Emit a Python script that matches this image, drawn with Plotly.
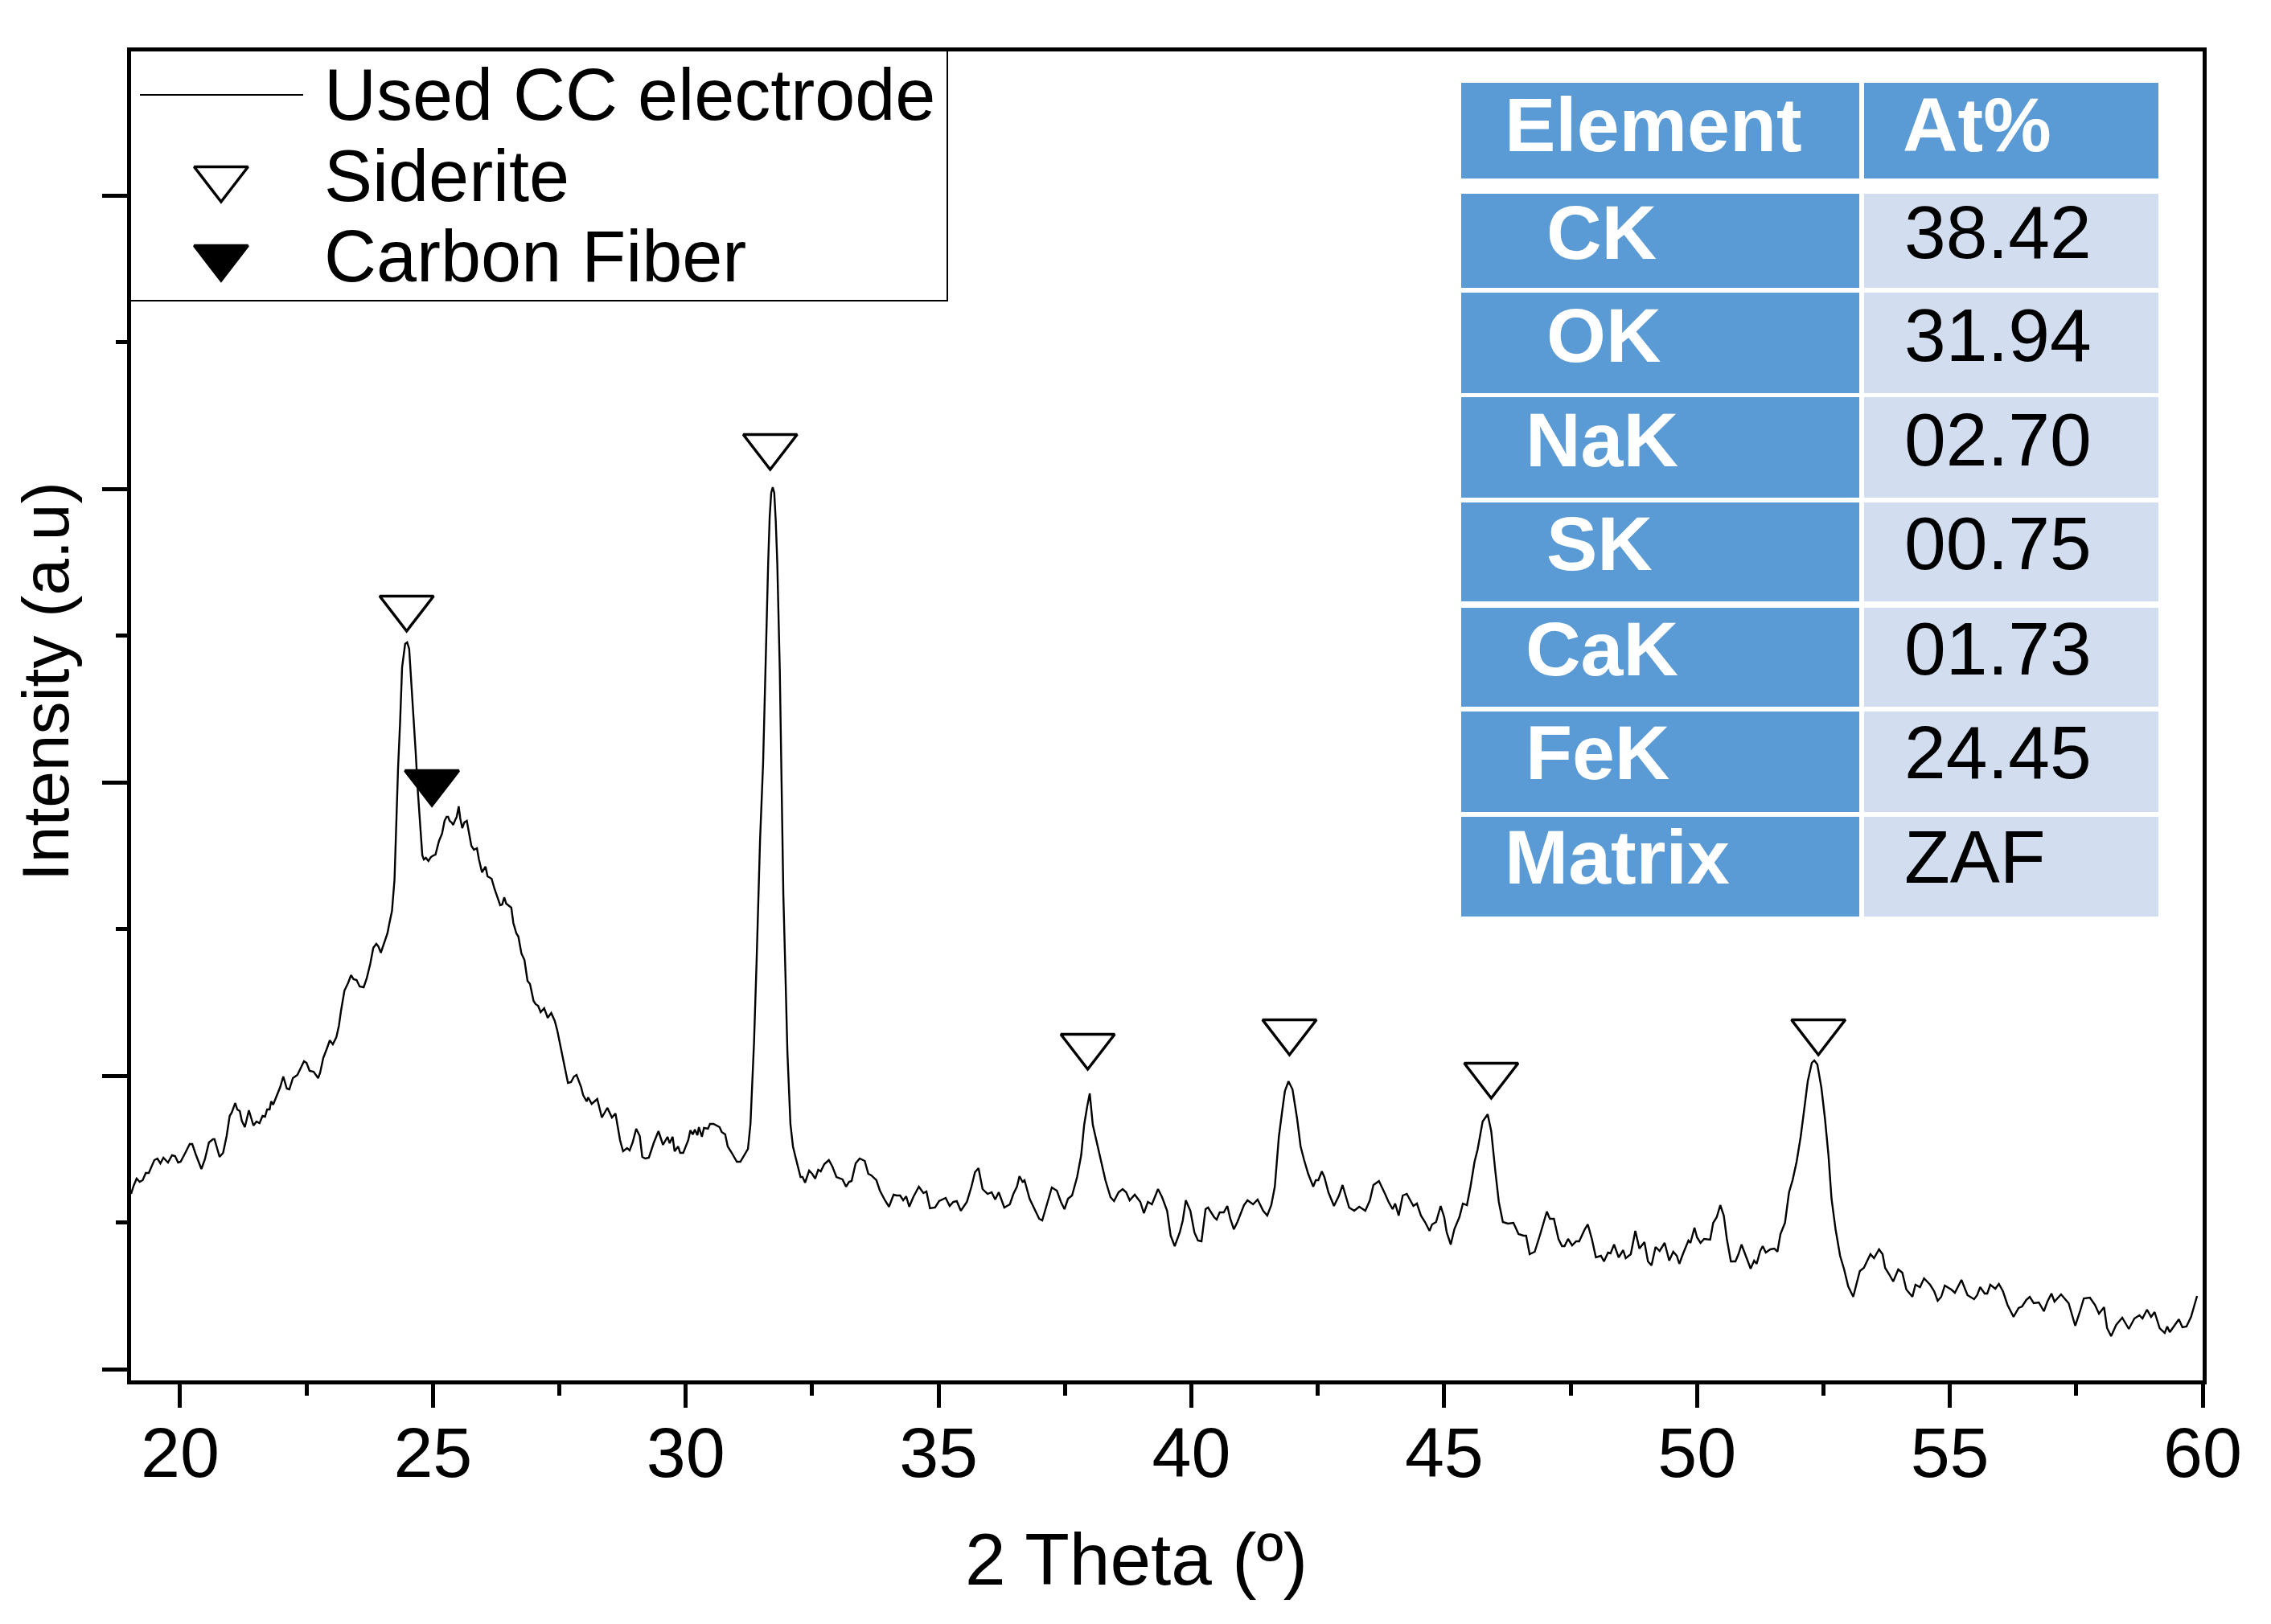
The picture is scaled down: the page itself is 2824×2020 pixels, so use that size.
import plotly.graph_objects as go

two_theta = [
19.03,19.08,19.14,19.20,19.26,19.32,19.38,19.44,19.49,19.55,19.61,19.67,19.76,19.84,19.90,19.96,20.01,20.11,20.19,20.24,
20.31,20.42,20.49,20.57,20.65,20.68,20.73,20.78,20.85,20.92,20.98,21.02,21.09,21.13,21.18,21.22,21.28,21.36,21.45,21.51,
21.57,21.63,21.68,21.72,21.77,21.80,21.84,21.93,21.98,22.04,22.11,22.16,22.23,22.32,22.39,22.45,22.50,22.56,22.64,22.73,
22.77,22.83,22.91,22.96,23.02,23.09,23.14,23.18,23.25,23.32,23.38,23.43,23.49,23.55,23.63,23.69,23.76,23.82,23.88,23.92,
23.97,24.03,24.10,24.14,24.19,
24.24,24.27,24.31,24.35,24.39,24.45,24.49,24.53,24.57,24.61,24.66,24.70,24.75,24.79,24.82,24.86,24.91,24.96,25.01,25.05,
25.12,25.18,25.23,25.27,25.30,25.33,25.37,25.40,25.44,25.47,25.51,25.54,25.58,25.62,25.67,25.71,25.76,25.81,25.87,25.91,
25.97,26.04,26.08,26.16,26.22,26.33,26.37,26.41,26.45,26.55,26.59,26.65,26.69,26.75,26.81,26.87,26.92,26.99,27.03,27.08,
27.13,27.20,27.27,27.34,27.41,27.46,
27.52,27.58,27.63,27.67,27.73,27.79,27.84,27.93,27.97,28.04,28.07,28.14,28.25,28.34,28.45,28.54,28.61,28.70,28.76,28.84,
28.89,28.95,29.02,29.09,29.14,29.20,29.27,29.37,29.46,29.55,29.64,29.68,29.74,29.78,29.85,29.89,29.95,30.05,30.09,30.14,
30.18,30.23,30.26,30.32,30.36,30.44,30.48,30.55,30.67,30.71,30.78,30.83,30.91,31.01,31.08,31.15,31.23,31.28,31.32,31.35,
31.40,31.44,31.47,31.53,31.58,31.63,31.66,31.69,31.72,31.75,31.78,31.81,31.86,31.90,31.93,31.97,32.01,32.07,32.12,32.17,
32.27,32.31,32.36,32.44,32.50,32.56,32.62,32.67,32.74,32.83,32.90,32.98,33.10,33.17,33.23,33.28,33.36,33.44,33.54,33.61,
33.67,33.77,33.84,33.94,34.02,34.11,34.17,34.24,34.30,34.36,34.42,34.50,34.61,34.70,34.76,34.83,34.93,35.01,35.14,35.22,
35.29,35.36,35.44,35.56,35.65,35.72,35.79,35.87,35.97,36.05,36.12,36.19,36.30,36.41,36.48,36.55,36.60,36.66,36.70,36.80,
36.91,36.99,37.05,37.14,37.24,37.34,37.42,37.49,37.56,37.64,37.74,37.82,37.88,37.94,37.99,38.05,38.12,38.20,38.30,38.40,
38.47,38.56,38.64,38.71,38.78,38.88,38.99,39.06,39.14,39.22,39.34,39.42,39.52,39.59,39.67,39.77,39.83,39.89,39.98,40.06,
40.13,40.20,40.28,40.33,40.45,40.50,40.56,40.64,40.71,40.77,40.84,40.91,40.99,41.04,41.11,41.22,41.31,41.42,41.50,41.58,
41.65,41.73,41.80,41.85,41.92,42.00,42.09,42.16,42.23,42.31,42.41,42.46,42.51,42.58,42.63,42.71,42.82,42.92,42.99,43.07,
43.12,43.22,43.32,43.44,43.53,43.60,43.71,43.83,43.90,43.98,44.03,44.10,44.18,44.26,44.39,44.46,44.54,44.62,44.71,44.76,
44.84,44.93,45.00,45.05,45.13,45.20,45.30,45.37,45.45,45.52,45.60,45.66,45.76,45.86,45.93,46.01,46.08,46.16,46.26,46.37,
46.47,46.57,46.62,46.69,46.79,46.89,46.96,47.03,47.09,47.17,47.26,47.33,47.38,47.45,47.53,47.61,47.67,47.78,47.84,47.92,
48.00,48.10,48.16,48.24,48.29,48.36,48.45,48.54,48.59,48.69,48.78,48.86,48.96,49.03,49.10,49.18,49.26,49.36,49.45,49.53,
49.60,49.65,49.72,49.83,49.87,49.95,50.00,50.07,50.14,50.26,50.32,50.39,50.46,50.53,50.59,50.67,50.76,50.82,50.88,50.96,
51.06,51.13,51.18,51.25,51.30,51.36,51.45,51.53,51.59,51.65,51.74,51.82,51.89,51.97,52.05,52.12,52.19,52.27,52.32,52.38,
52.46,52.53,52.60,52.66,52.74,52.83,52.91,52.99,53.09,53.15,53.22,53.30,53.43,53.50,53.60,53.67,53.72,53.80,53.88,53.98,
54.06,54.14,54.26,54.32,54.41,54.49,54.61,54.69,54.76,54.83,54.90,55.03,55.10,55.23,55.35,55.48,55.54,55.60,55.69,55.74,
55.80,55.90,55.97,56.05,56.14,56.26,56.36,56.43,56.51,56.58,56.66,56.76,56.86,56.93,57.01,57.07,57.20,57.35,57.42,57.48,
57.57,57.65,57.77,57.87,57.95,58.05,58.11,58.19,58.29,58.41,58.54,58.65,58.75,58.81,58.90,58.98,59.05,59.15,59.25,59.30,
59.35,59.43,59.53,59.60,59.68,59.77,59.89,
]

intensity = [
218,228,237,233,235,244,244,252,260,262,256,263,257,266,265,257,258,270,280,280,
267,249,261,282,286,286,274,264,269,290,315,319,331,323,321,309,301,322,303,308,
306,315,314,323,323,333,329,342,351,364,349,348,362,366,376,383,381,371,370,362,
369,387,400,409,404,413,427,445,471,480,490,485,484,476,475,486,504,524,529,526,
518,529,542,555,570,
609,674,747,804,873,902,904,896,858,812,766,720,674,639,634,636,632,637,639,640,
657,666,682,687,687,682,680,677,683,687,700,685,673,680,682,668,651,646,648,634,
618,625,613,610,597,577,578,587,579,574,555,542,538,517,509,483,479,458,454,452,
444,449,437,443,433,421,
402,384,366,356,357,364,366,351,341,333,338,330,336,313,325,313,318,285,271,275,
272,282,299,290,264,262,263,282,296,279,289,281,289,271,277,269,269,285,297,292,
298,291,301,289,300,299,305,305,301,295,292,277,269,258,258,265,274,305,356,406,
505,590,659,754,888,1003,1060,1090,1097,1090,1055,1003,869,690,590,495,395,305,277,264,
239,239,232,247,243,237,248,246,255,260,252,239,236,227,233,234,256,262,259,243,
241,235,222,210,202,217,216,216,210,215,202,214,227,219,221,200,201,209,213,203,
208,209,197,208,227,245,250,224,218,220,211,220,201,205,218,227,240,233,235,212,
197,187,185,204,226,222,208,199,212,216,239,266,304,327,343,304,285,262,235,214,
209,220,224,220,210,217,208,194,208,205,224,214,197,166,153,170,185,210,197,170,
160,159,199,201,189,186,195,195,203,187,174,183,197,204,210,205,211,197,191,204,
227,289,323,346,358,348,312,277,260,243,227,235,235,246,239,220,203,216,229,212,
201,197,202,197,210,229,234,218,208,199,206,191,216,218,203,206,191,183,172,180,
183,203,189,170,155,174,189,206,204,227,258,273,308,317,296,247,208,183,181,182,
168,166,166,143,146,166,182,196,187,187,162,153,153,162,154,159,159,174,180,162,
139,141,134,145,144,155,139,148,138,143,172,150,158,134,129,152,147,157,135,146,
141,131,143,160,157,176,164,157,162,161,182,189,204,191,162,134,134,143,155,141,
125,135,131,147,153,145,149,150,146,168,182,220,235,258,289,323,358,381,384,379,
350,312,266,212,174,141,124,103,90,105,122,126,143,138,149,143,126,118,109,124,
120,99,90,105,102,113,105,97,85,90,104,99,95,111,92,87,92,102,94,94,
105,100,106,97,80,65,76,78,86,90,82,83,72,84,94,84,93,82,67,54,
71,88,89,80,69,77,51,41,55,64,50,63,67,63,74,65,71,51,45,53,
46,53,62,52,53,65,91,
]

siderite_x = [24.48, 31.67, 37.95, 41.94, 45.93, 52.40]
siderite_y = [947, 1148, 402, 420, 366, 420]
carbon_x = [24.98]
carbon_y = [730]

legend_labels = ["Used CC electrode", "Siderite", "Carbon Fiber"]
legend_marker_x = [20.81, 20.81]
legend_marker_y = [1481, 1383]

table_header = ["Element", "At%"]
elements = ["CK", "OK", "NaK", "SK", "CaK", "FeK", "Matrix"]
at_percent = ["38.42", "31.94", "02.70", "00.75", "01.73", "24.45", "ZAF"]

x_ticks = [20, 25, 30, 35, 40, 45, 50, 55, 60]

# layout in page pixels
W, H = 2824, 2020
L, R, T, B = 163, 2739, 64, 1717
def fx(px): return (px - L) / (R - L)
def fy(py): return (B - py) / (B - T)

FONT = "Liberation Sans, Arial, sans-serif"
BLUE, PALE = "#5B9BD5", "#D2DEEF"

fig = go.Figure()
fig.add_trace(go.Scatter(x=two_theta, y=intensity, mode="lines", name=legend_labels[0],
                         line=dict(color="black", width=2.4), showlegend=False))
open_marker = dict(symbol="triangle-down", size=58, color="rgba(0,0,0,0)", line=dict(color="black", width=3.5))
fill_marker = dict(symbol="triangle-down", size=58, color="black", line=dict(color="black", width=3.5))
fig.add_trace(go.Scatter(x=siderite_x, y=siderite_y, mode="markers", name=legend_labels[1],
                         marker=open_marker, showlegend=False))
fig.add_trace(go.Scatter(x=carbon_x, y=carbon_y, mode="markers", name=legend_labels[2],
                         marker=fill_marker, showlegend=False))
fig.add_trace(go.Scatter(x=legend_marker_x[:1], y=legend_marker_y[:1], mode="markers",
                         marker=open_marker, showlegend=False, hoverinfo="skip"))
fig.add_trace(go.Scatter(x=legend_marker_x[1:], y=legend_marker_y[1:], mode="markers",
                         marker=fill_marker, showlegend=False, hoverinfo="skip"))

shapes, annos = [], []
def rect(x0, y0, x1, y1, fill, line=None):
    shapes.append(dict(type="rect", xref="paper", yref="paper", layer="below",
                       x0=fx(x0), x1=fx(x1), y0=fy(y1), y1=fy(y0), fillcolor=fill,
                       line=dict(color=line or "rgba(0,0,0,0)", width=2 if line else 0)))
def text(s, px, py, size, color="black", bold=False, anchor="left", angle=0):
    annos.append(dict(xref="paper", yref="paper", x=fx(px), y=fy(py), text=f"<b>{s}</b>" if bold else s,
                      showarrow=False, xanchor=anchor, yanchor="middle", textangle=angle,
                      font=dict(family=FONT, size=size, color=color)))

# legend box
rect(161, 62, 1178, 374, "white", "black")
shapes.append(dict(type="line", xref="paper", yref="paper", x0=fx(174), x1=fx(377), y0=fy(118), y1=fy(118),
                   line=dict(color="black", width=2)))
for label, py in zip(legend_labels, [118, 219, 319]):
    text(label, 401, py, 90)

# element table
rows_top = [241, 364, 494, 625, 756, 885, 1016]
rows_bot = [358, 489, 619, 748, 879, 1010, 1140]
rows_mid = [289, 417, 547, 676, 807, 936, 1066]
label_x = [1921, 1921, 1895, 1921, 1895, 1895, 1869]
rect(1817, 103, 2312, 222, BLUE)
rect(2318, 103, 2684, 222, BLUE)
text(table_header[0], 1869, 155, 95, "white", True)
text(table_header[1], 2364, 155, 95, "white", True)
for i, (el, val) in enumerate(zip(elements, at_percent)):
    rect(1817, rows_top[i], 2312, rows_bot[i], BLUE)
    rect(2318, rows_top[i], 2684, rows_bot[i], PALE)
    text(el, label_x[i], rows_mid[i], 95, "white", True)
    text(val, 2366, rows_mid[i], 93)

# axis titles
text("2 Theta (º)", 1413, 1939, 91, anchor="center")
text("Intensity (a.u)", 57, 848, 82, anchor="center", angle=-90)

fig.update_layout(
    width=W, height=H, autosize=False, margin=dict(l=L, r=W - R, t=T, b=H - B),
    paper_bgcolor="white", plot_bgcolor="white", showlegend=False,
    shapes=shapes, annotations=annos, font=dict(family=FONT, color="black"),
)
fig.update_xaxes(range=[19.03, 60], tickmode="array", tickvals=x_ticks, ticktext=[str(v) for v in x_ticks],
                 ticks="outside", ticklen=29, tickwidth=5, tickcolor="black", ticklabelstandoff=-20,
                 minor=dict(tickvals=[22.5, 27.5, 32.5, 37.5, 42.5, 47.5, 52.5, 57.5], ticks="outside",
                            ticklen=14, tickwidth=5, tickcolor="black"),
                 showline=True, linecolor="black", linewidth=5, mirror=True, showgrid=False, zeroline=False,
                 tickfont=dict(family=FONT, size=88, color="black"))
fig.update_yaxes(range=[-14, 1639], tickmode="linear", tick0=0, dtick=365, showticklabels=False,
                 ticks="outside", ticklen=31, tickwidth=5, tickcolor="black",
                 minor=dict(tick0=182.5, dtick=365, ticks="outside", ticklen=14, tickwidth=5, tickcolor="black"),
                 showline=True, linecolor="black", linewidth=5, mirror=True, showgrid=False, zeroline=False)

assert len(two_theta) == len(intensity), (len(two_theta), len(intensity))
fig.write_html("out.html", post_script="document.body.style.margin='0';", config={"displayModeBar": False})
